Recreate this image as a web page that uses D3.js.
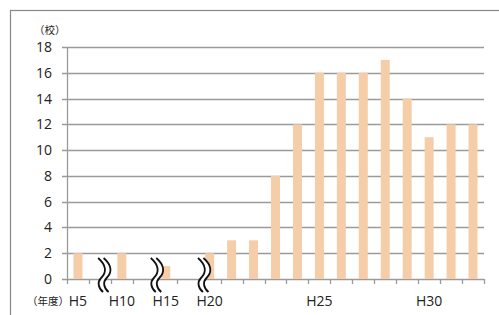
<!DOCTYPE html>
<html>
<head>
<meta charset="utf-8">
<script src="https://cdn.jsdelivr.net/npm/d3@7"></script>
<style>
  body { margin: 0; background: #fff; }
  text { font-family: "Open Sans", "Liberation Sans", sans-serif; fill: #222; }
  .jp { font-family: "Noto Sans CJK JP", sans-serif; }
</style>
</head>
<body>
<div id="graf"></div>
<script>
// slots on the x axis; "~1".."~3" are the gaps drawn with break marks
const categories = ["H5", "~1", "H10", "~2", "H15", "~3", "H20", "H21", "H22", "H23",
  "H24", "H25", "H26", "H27", "H28", "H29", "H30", "H31", "R2"]
const values = [2, null, 2, null, 1, null, 2, 3, 3, 8, 12, 16, 16, 16, 17, 14, 11, 12, 12]
const shownLabels = ["H5", "H10", "H15", "H20", "H25", "H30"]
const breaks = ["~1", "~2", "~3"]
const yTicks = [0, 2, 4, 6, 8, 10, 12, 14, 16, 18]

const anchoTotal = 499
const altoTotal = 315

const svg = d3.select("#graf")
  .append("svg")
  .attr("width", anchoTotal)
  .attr("height", altoTotal)

// outer frame (right/bottom edges fall outside the picture)
svg.append("rect")
  .attr("x", 10.5).attr("y", 10.5)
  .attr("width", 520).attr("height", 340)
  .attr("fill", "none")
  .attr("stroke", "#888")
  .attr("stroke-width", 1.2)

const x = d3.scaleBand().domain(categories).range([67, 484])
const y = d3.scaleLinear().domain([0, 18]).range([279, 47])
const bw = x.bandwidth()

// grid lines + y labels
svg.append("g")
  .selectAll("line")
  .data(yTicks)
  .join("line")
  .attr("x1", 62).attr("x2", 484)
  .attr("y1", d => Math.round(y(d)) + 0.5)
  .attr("y2", d => Math.round(y(d)) + 0.5)
  .attr("stroke", "#9a9a9a")
  .attr("stroke-width", 1.3)

svg.append("g")
  .selectAll("text")
  .data(yTicks)
  .join("text")
  .attr("x", 52)
  .attr("y", d => y(d) + 5)
  .attr("text-anchor", "end")
  .attr("font-size", 14)
  .text(d => d)

// y axis line
svg.append("line")
  .attr("x1", 67.5).attr("x2", 67.5)
  .attr("y1", y(18)).attr("y2", y(0))
  .attr("stroke", "#9a9a9a")
  .attr("stroke-width", 1.3)

// x ticks at slot boundaries
const bounds = categories.map(c => x(c)).concat([x.range()[1]])
svg.append("g")
  .selectAll("line")
  .data(bounds)
  .join("line")
  .attr("x1", d => Math.round(d) + 0.5)
  .attr("x2", d => Math.round(d) + 0.5)
  .attr("y1", y(0)).attr("y2", y(0) + 5)
  .attr("stroke", "#9a9a9a")
  .attr("stroke-width", 1.3)

// bars
svg.append("g")
  .selectAll("rect")
  .data(categories.map((c, i) => ({ c, v: values[i] })).filter(d => d.v != null))
  .join("rect")
  .attr("x", d => x(d.c) + bw / 2 - 4.5)
  .attr("y", d => y(d.v))
  .attr("width", 9)
  .attr("height", d => y(0) - y(d.v))
  .attr("fill", "#f5cda9")

// break marks
const curve = "M-4,-17 C4,-10 5,-3 -1,3 C-5,7 -4,13 1,17"
const bm = svg.append("g")
  .selectAll("g")
  .data(breaks)
  .join("g")
  .attr("transform", (d, i) => `translate(${x(d) + bw * [0.6, 1.0, 1.15][i]}, 275)`)
bm.append("path")
  .attr("d", curve)
  .attr("transform", "translate(2.5,0)")
  .attr("fill", "none")
  .attr("stroke", "#fff")
  .attr("stroke-width", 5)
bm.append("path")
  .attr("d", curve)
  .attr("fill", "none")
  .attr("stroke", "#111")
  .attr("stroke-width", 1.8)
bm.append("path")
  .attr("d", curve)
  .attr("transform", "translate(5.5,0)")
  .attr("fill", "none")
  .attr("stroke", "#111")
  .attr("stroke-width", 1.8)

// x labels
svg.append("g")
  .selectAll("text")
  .data(shownLabels)
  .join("text")
  .attr("x", d => x(d) + bw / 2)
  .attr("y", 306)
  .attr("text-anchor", "middle")
  .attr("font-size", 14)
  .text(d => d)

svg.append("text")
  .attr("class", "jp")
  .attr("x", 69).attr("y", 305)
  .attr("text-anchor", "end")
  .attr("font-size", 10.5)
  .text("（年度）")

svg.append("text")
  .attr("class", "jp")
  .attr("x", 34).attr("y", 34)
  .attr("font-size", 10.5)
  .text("（校）")
</script>
</body>
</html>
